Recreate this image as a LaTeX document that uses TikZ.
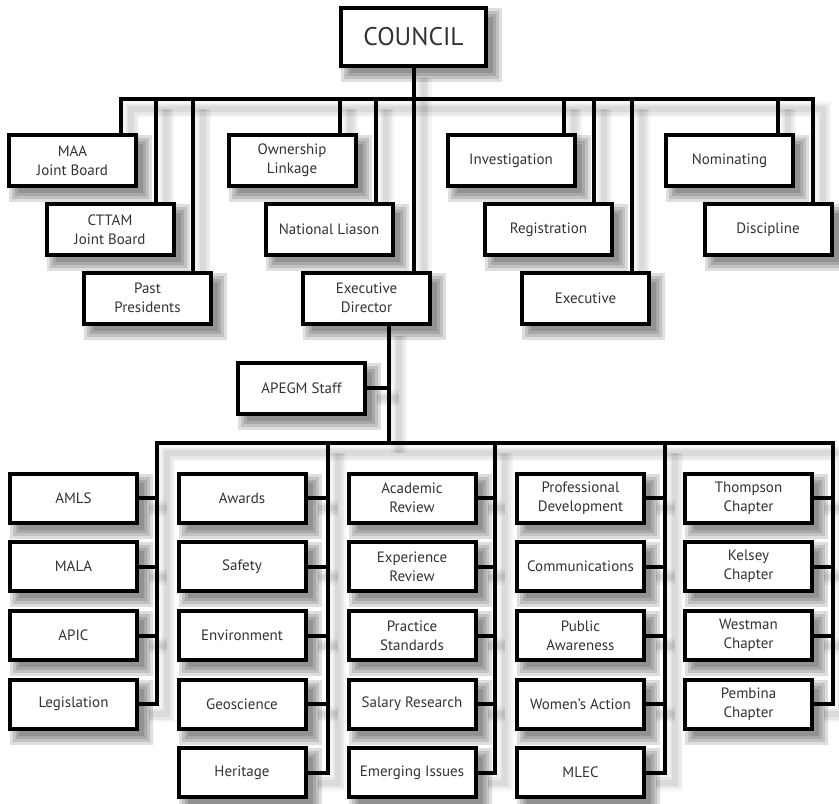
\documentclass[tikz,border=0pt]{standalone}
\usepackage{fontspec}
\setmainfont{PT Sans}
\pgfdeclarelayer{bg}
\pgfsetlayers{bg,main}
\tikzset{
  box/.style={draw=black, line width=4, fill=white, minimum width=127, minimum height=51,
    align=center, inner sep=0, font=\fontsize{15}{19}\selectfont, text=black!80},
  lbox/.style={box, minimum height=49},
  conn/.style={draw=black, line width=4, line join=miter},
}
\newcommand\conpaths[1]{%
  \draw[#1] (d1 |- maa.north) -- (d1) -- (d11) -- (d11 |- dis.north);
  \draw[#1] (d2) -- (d2 |- cttam.north);
  \draw[#1] (d3) -- (d3 |- past.north);
  \draw[#1] (d4) -- (d4 |- own.north);
  \draw[#1] (d5) -- (d5 |- nat.north);
  \draw[#1] (council.south) -- (council.south |- ed.north);
  \draw[#1] (d7) -- (d7 |- inv.north);
  \draw[#1] (d8) -- (d8 |- reg.north);
  \draw[#1] (d9) -- (d9 |- exe.north);
  \draw[#1] (d10) -- (d10 |- nom.north);
  \draw[#1] (edx |- ed.south) -- (edx);
  \draw[#1] (staff.east) -- (staff.east -| edx);
  \draw[#1] (leg.east) -- (leg.east -| v1) -- (v1) -- (v5) -- (pem.east -| v5) -- (pem.east);
  \draw[#1] (amls.east) -- (amls.east -| v1);
  \draw[#1] (mala.east) -- (mala.east -| v1);
  \draw[#1] (apic.east) -- (apic.east -| v1);
  \draw[#1] (v2) -- (v2 |- her.east) -- (her.east);
  \draw[#1] (awa.east) -- (awa.east -| v2);
  \draw[#1] (saf.east) -- (saf.east -| v2);
  \draw[#1] (env.east) -- (env.east -| v2);
  \draw[#1] (geo.east) -- (geo.east -| v2);
  \draw[#1] (v3) -- (v3 |- eme.east) -- (eme.east);
  \draw[#1] (aca.east) -- (aca.east -| v3);
  \draw[#1] (expr.east) -- (expr.east -| v3);
  \draw[#1] (pra.east) -- (pra.east -| v3);
  \draw[#1] (sal.east) -- (sal.east -| v3);
  \draw[#1] (v4) -- (v4 |- mlec.east) -- (mlec.east);
  \draw[#1] (pro.east) -- (pro.east -| v4);
  \draw[#1] (com.east) -- (com.east -| v4);
  \draw[#1] (pub.east) -- (pub.east -| v4);
  \draw[#1] (wom.east) -- (wom.east -| v4);
  \draw[#1] (tho.east) -- (tho.east -| v5);
  \draw[#1] (kel.east) -- (kel.east -| v5);
  \draw[#1] (wes.east) -- (wes.east -| v5);
}
\begin{document}
\begin{tikzpicture}[x=1pt,y=-1pt]
\useasboundingbox (0,0) rectangle (839,804);
% top
\node[box, minimum width=145, minimum height=58, font=\fontsize{25.5}{30}\selectfont] (council) at (413.5,37) {COUNCIL};
\node[box] (maa)   at (72.5,160.5) {MAA\\Joint Board};
\node[box] (cttam) at (110,229.5)  {CTTAM\\Joint Board};
\node[box] (past)  at (147.5,298)  {Past\\Presidents};
\node[box] (own)   at (292,160.5)  {Ownership\\Linkage};
\node[box] (nat)   at (329,229.5)  {National Liason};
\node[box] (ed)    at (366.5,298)  {Executive\\Director};
\node[box] (inv)   at (511,160.5)  {Investigation};
\node[box] (reg)   at (548.5,229.5){Registration};
\node[box] (exe)   at (585.5,298)  {Executive};
\node[box] (nom)   at (729.5,160.5){Nominating};
\node[box] (dis)   at (768,229.5)  {Discipline};
\node[box] (staff) at (301.5,388)  {APEGM Staff};
% lower columns
\node[lbox] (amls) at (73.5,498)   {AMLS};
\node[lbox] (mala) at (73.5,566.5) {MALA};
\node[lbox] (apic) at (73.5,635.5) {APIC};
\node[lbox] (leg)  at (73.5,704)   {Legislation};
\node[lbox] (awa)  at (242,498)    {Awards};
\node[lbox] (saf)  at (242,566.5)  {Safety};
\node[lbox] (env)  at (242,635.5)  {Environment};
\node[lbox] (geo)  at (242,704)    {Geoscience};
\node[lbox] (her)  at (242,772.5)  {Heritage};
\node[lbox] (aca)  at (412,498)    {Academic\\Review};
\node[lbox] (expr) at (412,566.5)  {Experience\\Review};
\node[lbox] (pra)  at (412,635.5)  {Practice\\Standards};
\node[lbox] (sal)  at (412,704)    {Salary Research};
\node[lbox] (eme)  at (412,772.5)  {Emerging Issues};
\node[lbox] (pro)  at (580.5,498)  {Professional\\Development};
\node[lbox] (com)  at (580.5,566.5){Communications};
\node[lbox] (pub)  at (580.5,635.5){Public\\Awareness};
\node[lbox] (wom)  at (580.5,704)  {Women’s Action};
\node[lbox] (mlec) at (580.5,772.5){MLEC};
\node[lbox] (tho)  at (748.5,498)  {Thompson\\Chapter};
\node[lbox] (kel)  at (748.5,566.5){Kelsey\\Chapter};
\node[lbox] (wes)  at (748.5,635.5){Westman\\Chapter};
\node[lbox] (pem)  at (748.5,704)  {Pembina\\Chapter};
% junction coordinates
\coordinate (d1) at (121,99);
\coordinate (d2) at (156,99);
\coordinate (d3) at (193,99);
\coordinate (d4) at (340,99);
\coordinate (d5) at (376,99);
\coordinate (d7) at (564,99);
\coordinate (d8) at (594,99);
\coordinate (d9) at (632,99);
\coordinate (d10) at (778,99);
\coordinate (d11) at (813,99);
\coordinate (edx) at (389,443);
\coordinate (v1) at (157,443);
\coordinate (v2) at (328,443);
\coordinate (v3) at (495,443);
\coordinate (v4) at (665,443);
\coordinate (v5) at (833,443);
% shadows
\begin{pgfonlayer}{bg}
\fill[white] (0,0) rectangle (839,804);
\begin{scope}[transform canvas={shift={(10,10)}}]
  \foreach \w/\o in {16/0.04,11/0.05,6/0.06} {\conpaths{draw=black,opacity=\o,line width=\w}}
\end{scope}
\begin{scope}[transform canvas={shift={(8,8)}}]
  \foreach \n in {council,maa,cttam,past,own,nat,ed,inv,reg,exe,nom,dis,staff,
      amls,mala,apic,leg,awa,saf,env,geo,her,aca,expr,pra,sal,eme,pro,com,pub,wom,mlec,tho,kel,wes,pem} {
    \foreach \k in {-3,0,3,6} {
      \fill[black,opacity=0.13] ([shift={(-\k,-\k)}]\n.north west) rectangle ([shift={(\k,\k)}]\n.south east);
    }
  }
\end{scope}
\end{pgfonlayer}
% connectors
\conpaths{conn}
\end{tikzpicture}
\end{document}
